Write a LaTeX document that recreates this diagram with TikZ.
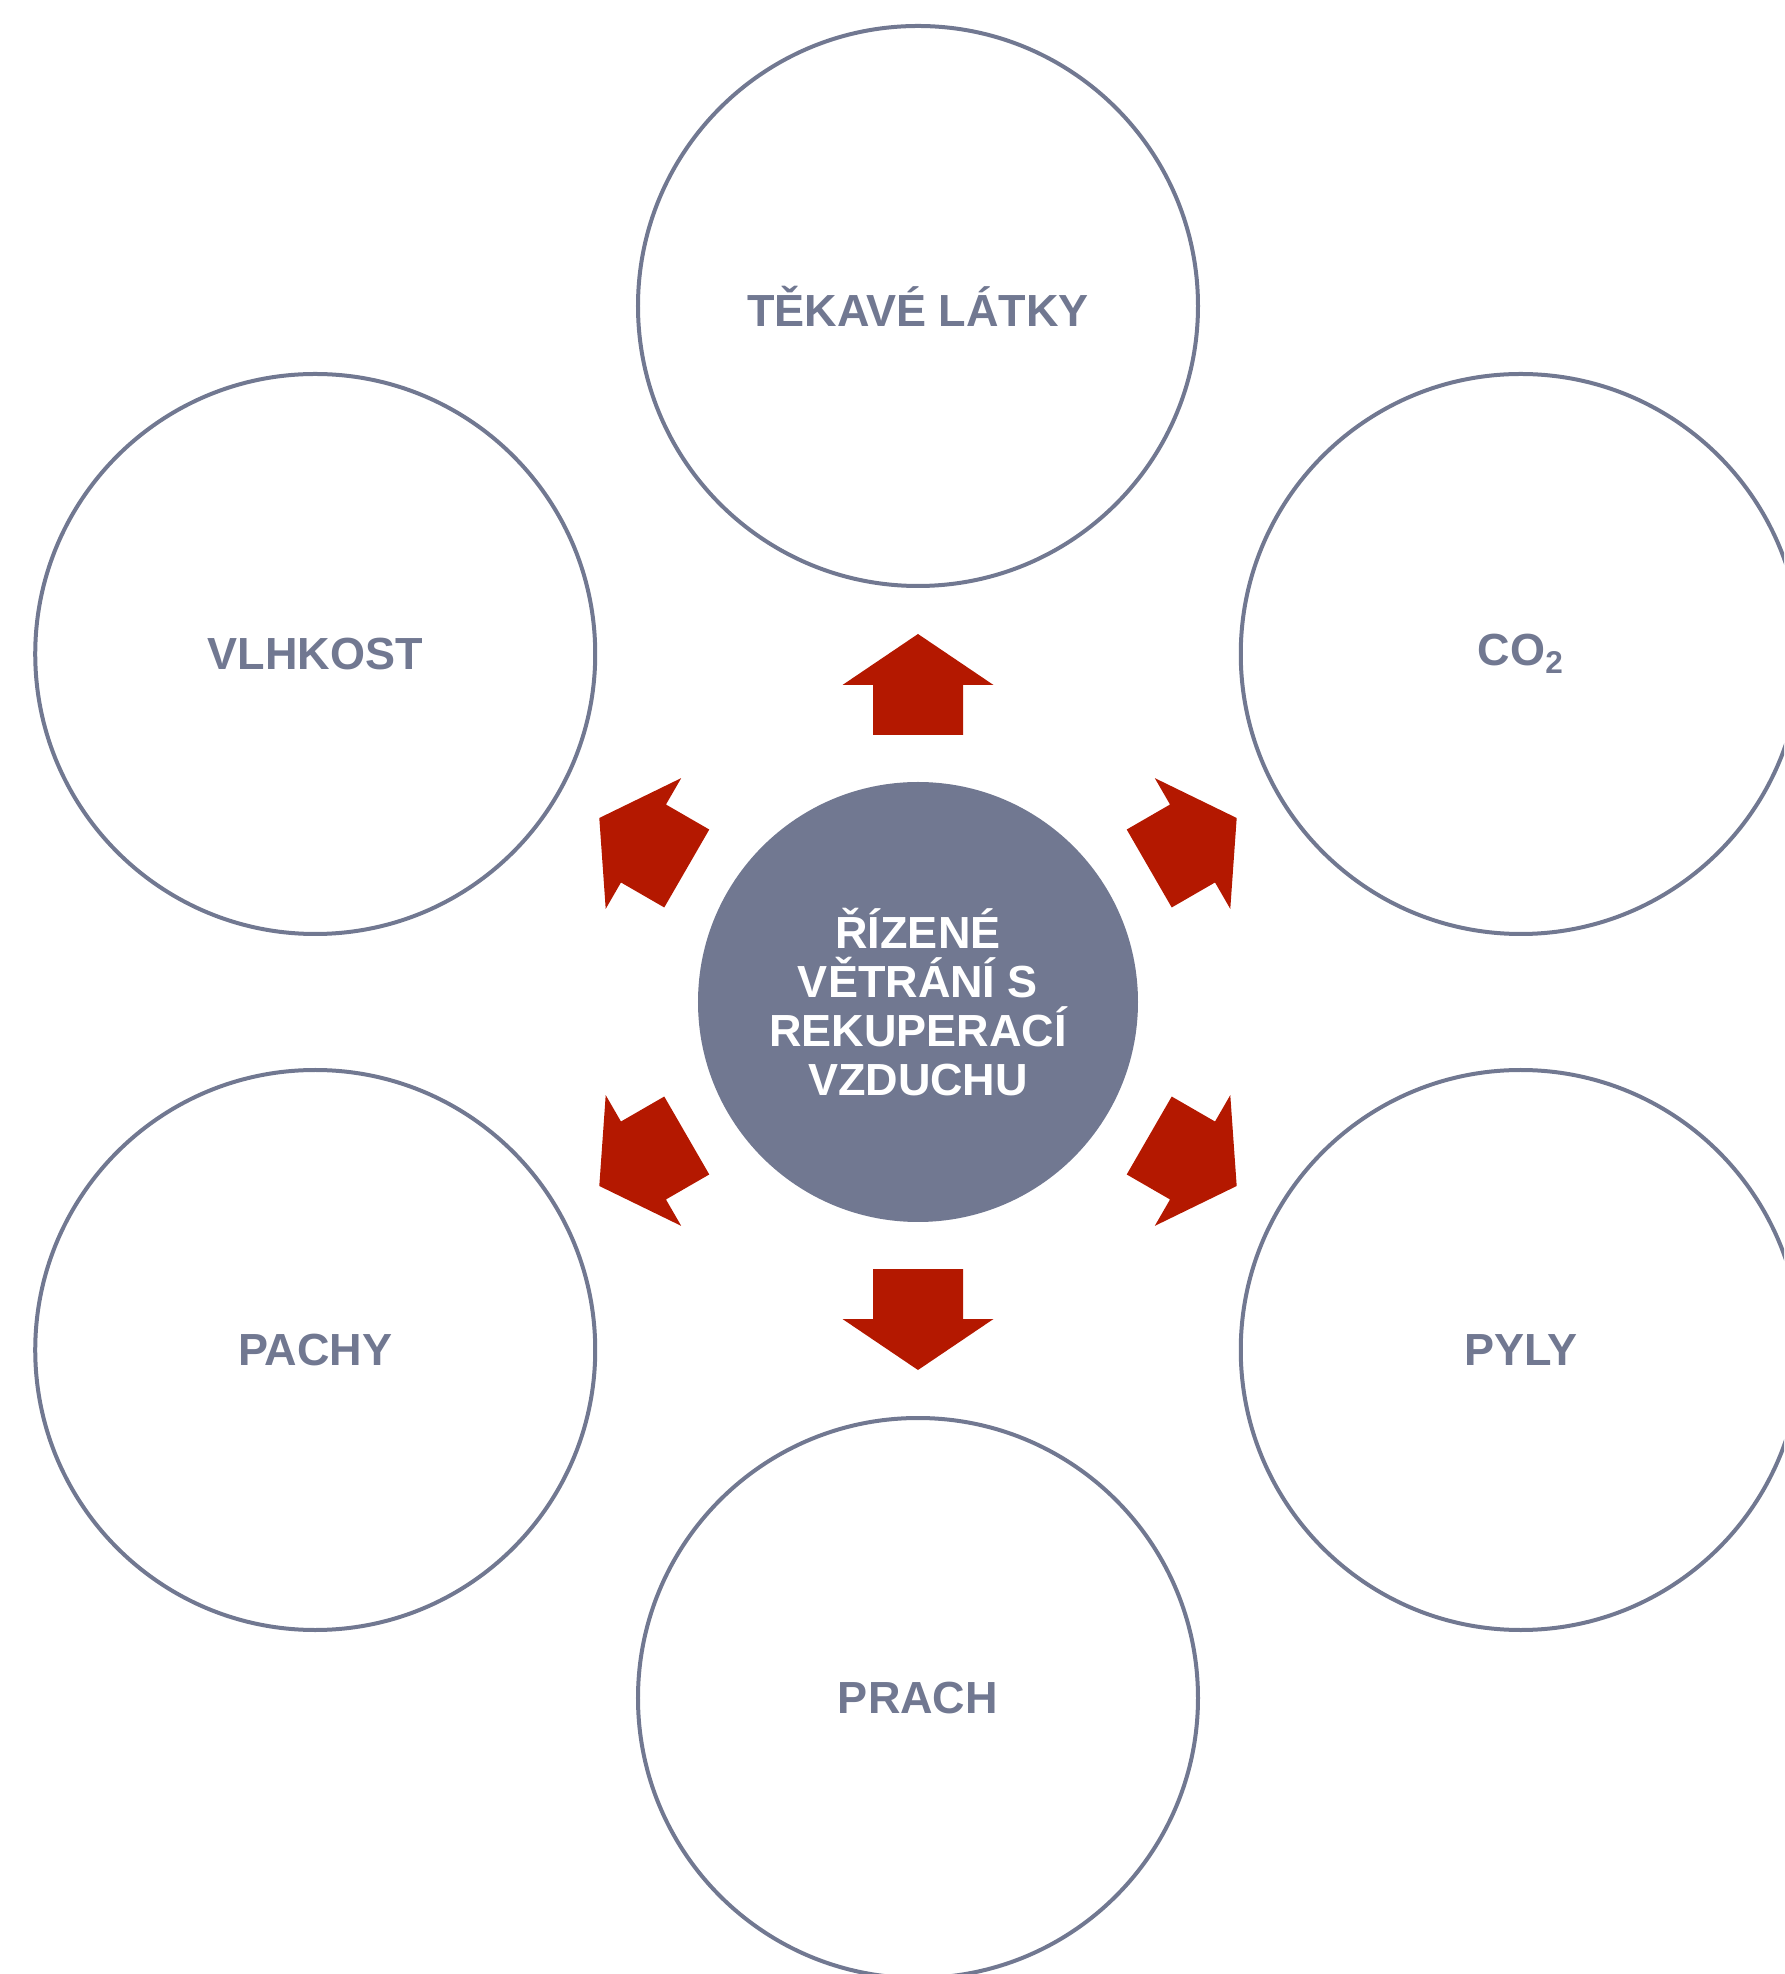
\documentclass[tikz,border=0pt]{standalone}
\usepackage{fontspec}
\setmainfont{Liberation Sans}
\definecolor{sedamodra}{HTML}{717891}
\definecolor{cervena}{HTML}{B41800}
\tikzset{
  kruh/.style={circle, draw=sedamodra, line width=2pt, minimum size=280pt, inner sep=0pt,
    text=sedamodra, align=center, font=\fontsize{22.5}{24.5}\selectfont\bfseries},
  stred/.style={circle, fill=sedamodra, minimum size=220pt, inner sep=0pt,
    text=white, align=center, font=\fontsize{22.5}{24.5}\selectfont\bfseries},
  sipka/.style={fill=cervena}
}
\begin{document}
\begin{tikzpicture}[x=0.5pt,y=0.5pt]
\clip (-918,-972) rectangle (866,1002);
\node[stred] (rizene) at (0,0) {ŘÍZENÉ\\VĚTRÁNÍ S\\REKUPERACÍ\\VZDUCHU};
\node[kruh] (tekave) at (90:696) {TĚKAVÉ LÁTKY};
\node[kruh] (co2) at (30:696) {CO\textsubscript{2}};
\node[kruh] (pyly) at (-30:696) {PYLY};
\node[kruh] (prach) at (-90:696) {PRACH};
\node[kruh] (pachy) at (210:696) {PACHY};
\node[kruh] (vlhkost) at (150:696) {VLHKOST};
% sipky ze stredu ven
\foreach \uhel in {90,30,-30,-90,210,150}
  \fill[sipka, shift={(rizene.center)}, rotate=\uhel]
    (267,-45) -- (317,-45) -- (317,-75.5) -- (368,0) -- (317,75.5) -- (317,45) -- (267,45) -- cycle;
\end{tikzpicture}
\end{document}
